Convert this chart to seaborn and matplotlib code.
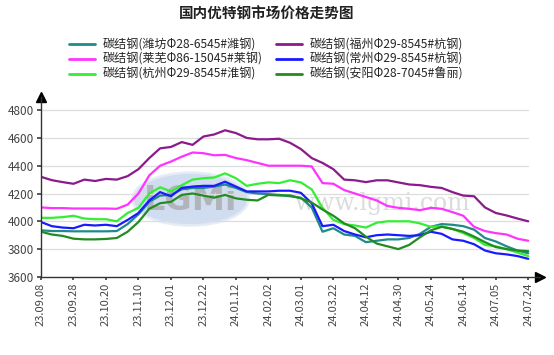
import numpy as np
import pandas as pd
import seaborn as sns
import matplotlib.pyplot as plt
from matplotlib.patches import Ellipse

# dates shown on the x axis (every 3rd sample point)
dates = ['23.09.08', '23.09.28', '23.10.20', '23.11.10', '23.12.01', '23.12.22',
         '24.01.12', '24.02.02', '24.03.01', '24.03.22', '24.04.12', '24.04.30',
         '24.05.24', '24.06.14', '24.07.05', '24.07.24']

names = ['碳结钢(潍坊Φ28-6545#潍钢)', '碳结钢(莱芜Φ86-15045#莱钢)', '碳结钢(杭州Φ29-8545#淮钢)',
         '碳结钢(福州Φ29-8545#杭钢)', '碳结钢(常州Φ29-8545#杭钢)', '碳结钢(安阳Φ28-7045#鲁丽)']
colors = ['#1f8a8a', '#ff33ff', '#33ee33', '#8b1a8b', '#1a1aff', '#228b22']

weifang = [3935, 3930, 3930, 3928, 3928, 3928, 3928, 3930, 3980, 4050, 4140, 4185,
           4190, 4230, 4240, 4240, 4250, 4265, 4240, 4210, 4200, 4195, 4190, 4180,
           4170, 4100, 3925, 3950, 3905, 3895, 3850, 3860, 3870, 3870, 3880, 3910,
           3960, 3980, 3975, 3965, 3940, 3880, 3855, 3820, 3790, 3770]
laiwu = [4100, 4095, 4095, 4092, 4092, 4092, 4092, 4090, 4120, 4200, 4330, 4400,
         4430, 4465, 4495, 4490, 4475, 4478, 4455, 4440, 4420, 4400, 4400, 4400,
         4400, 4395, 4275, 4270, 4225, 4200, 4175, 4150, 4110, 4097, 4090, 4080,
         4097, 4090, 4066, 4040, 3960, 3930, 3915, 3905, 3875, 3860]
hangzhou = [4025, 4025, 4030, 4040, 4020, 4015, 4015, 4000, 4060, 4097, 4200, 4245,
            4215, 4260, 4300, 4310, 4315, 4345, 4310, 4255, 4270, 4280, 4275, 4295,
            4280, 4230, 4097, 4010, 3980, 3970, 3955, 3990, 4000, 4000, 4000, 3985,
            3960, 3965, 3945, 3915, 3880, 3830, 3820, 3800, 3775, 3750]
fuzhou = [4320, 4296, 4282, 4270, 4300, 4290, 4305, 4300, 4325, 4375, 4455, 4525,
          4535, 4570, 4550, 4610, 4625, 4655, 4635, 4600, 4590, 4590, 4594, 4565,
          4520, 4455, 4420, 4375, 4300, 4295, 4282, 4295, 4295, 4280, 4265, 4260,
          4248, 4240, 4210, 4185, 4180, 4100, 4060, 4042, 4020, 4000]
changzhou = [3995, 3965, 3955, 3950, 3975, 3970, 3975, 3965, 4010, 4060, 4150, 4210,
             4180, 4240, 4250, 4255, 4255, 4285, 4250, 4215, 4215, 4215, 4220, 4220,
             4205, 4130, 3965, 3975, 3930, 3905, 3885, 3900, 3905, 3900, 3895, 3900,
             3925, 3910, 3870, 3860, 3835, 3790, 3770, 3762, 3750, 3730]
anyang = [3925, 3905, 3895, 3875, 3870, 3870, 3873, 3880, 3925, 3995, 4090, 4130,
          4140, 4190, 4200, 4185, 4170, 4190, 4165, 4155, 4150, 4190, 4186, 4186,
          4165, 4135, 4085, 4040, 3985, 3950, 3890, 3840, 3820, 3800, 3830, 3885,
          3935, 3960, 3945, 3925, 3890, 3850, 3815, 3800, 3790, 3785]

series = [weifang, laiwu, hangzhou, fuzhou, changzhou, anyang]
n = len(weifang)
df = pd.concat([pd.DataFrame({'x': np.arange(n), 'price': s, 'name': nm})
                for s, nm in zip(series, names)])

sns.set_theme(style='white')
plt.rcParams['font.family'] = ['Noto Sans CJK SC', 'DejaVu Sans']

fig = plt.figure(figsize=(5.54, 3.55), dpi=100)
ax = fig.add_axes([0.074, 0.22, 0.901, 0.507])

# watermark
ax.add_patch(Ellipse((13.8, 4160), 10.7, 380, facecolor='#c8d8ee', edgecolor='#e4ecf6',
                     linewidth=2, alpha=0.85, zorder=0))
ax.text(13.8, 4150, 'LGMi', ha='center', va='center', fontsize=24, color='#aaaaaa',
        fontweight='bold', family='DejaVu Sans', alpha=0.8, zorder=0)
ax.text(31.5, 4130, 'www.lgmi.com', ha='center', va='center', fontsize=17,
        color='#cccccc', family='DejaVu Serif', alpha=0.7, zorder=0)

sns.lineplot(data=df, x='x', y='price', hue='name', hue_order=names,
             palette=colors, linewidth=1.6, ax=ax, legend=False)

ax.set_xlim(0, n - 1 + 1.1)
ax.set_ylim(3600, 4895)
ax.set_yticks(range(3600, 4801, 200))
ax.set_xticks(range(0, n, 3))
ax.set_xticklabels(dates, rotation=90)
ax.tick_params(axis='x', labelsize=8, colors='#444444', length=2)
ax.tick_params(axis='y', labelsize=8.5, colors='#444444', length=3)
ax.tick_params(axis='both', which='both', direction='out', bottom=True, left=True, pad=2)
ax.set_xlabel('')
ax.set_ylabel('')
for yv in range(3800, 4801, 200):
    ax.axhline(yv, xmax=(n - 1) / (n - 1 + 1.1), color='#dddddd', linewidth=0.9, zorder=0)
for side in ['top', 'right']:
    ax.spines[side].set_visible(False)
for side in ['left', 'bottom']:
    ax.spines[side].set_color('#333333')
    ax.spines[side].set_linewidth(1.0)
ax.plot(1, 0, '>', color='black', markersize=7, transform=ax.transAxes, clip_on=False)
ax.plot(0, 1, '^', color='black', markersize=7, transform=ax.transAxes, clip_on=False)

handles = [plt.Line2D([], [], color=c, linewidth=2) for c in colors]
fig.legend(handles, names, ncol=2, loc='upper center', bbox_to_anchor=(0.48, 0.91),
           frameon=False, fontsize=8.7, handlelength=2.2, labelspacing=0.15,
           columnspacing=1.1, handletextpad=0.6, borderpad=0)

fig.text(0.482, 0.962, '国内优特钢市场价格走势图', ha='center', va='center',
         fontsize=10.5, fontweight='bold', color='#222222')

fig.savefig('out.png', dpi=100)
